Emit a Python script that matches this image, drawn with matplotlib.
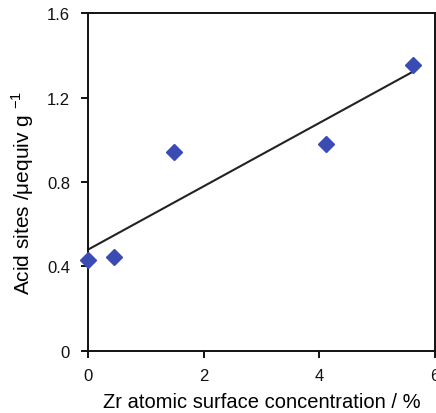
import numpy as np
import matplotlib.pyplot as plt

plt.rcParams['font.family'] = ['Liberation Sans', 'DejaVu Sans']

# Zr surface concentration (%) and acid site density (µequiv/g)
zr_conc = [0.0, 0.45, 1.48, 4.12, 5.62]
acid_sites = [0.43, 0.445, 0.94, 0.98, 1.355]

xticks = [0, 2, 4, 6]
yticks = [0, 0.4, 0.8, 1.2, 1.6]
ytick_labels = ['0', '0.4', '0.8', '1.2', '1.6']

fig = plt.figure(figsize=(4.36, 4.14), dpi=100)
ax = fig.add_axes([0.202, 0.150, 0.796, 0.816])

# linear trendline through the points
slope, intercept = np.polyfit(zr_conc, acid_sites, 1)
fit_x = np.array([min(zr_conc), max(zr_conc)])
ax.plot(fit_x, slope * fit_x + intercept, color='#222222', lw=1.5, zorder=2)

ax.plot(zr_conc, acid_sites, linestyle='none', marker='D', markersize=8.5,
        color='#3a4cb4', zorder=3, clip_on=False)

ax.set_xlim(0, 6)
ax.set_ylim(0, 1.6)
ax.set_xticks(xticks)
ax.set_yticks(yticks)
ax.set_yticklabels(ytick_labels)

for s in ax.spines.values():
    s.set_linewidth(1.4)
    s.set_color('#111111')
ax.tick_params(direction='out', length=5, width=1.4, labelsize=12, colors='#111111')
ax.tick_params(axis='y', pad=8)
ax.tick_params(axis='x', pad=7)

ax.set_xlabel('Zr atomic surface concentration / %', fontsize=14.5, labelpad=7)
ax.set_ylabel('Acid sites /\u03bcequiv g $^{\\mathregular{-1}}$', fontsize=15, labelpad=8)
ax.yaxis.set_label_coords(-0.15, 0.47)

fig.savefig('out.png', dpi=100)
